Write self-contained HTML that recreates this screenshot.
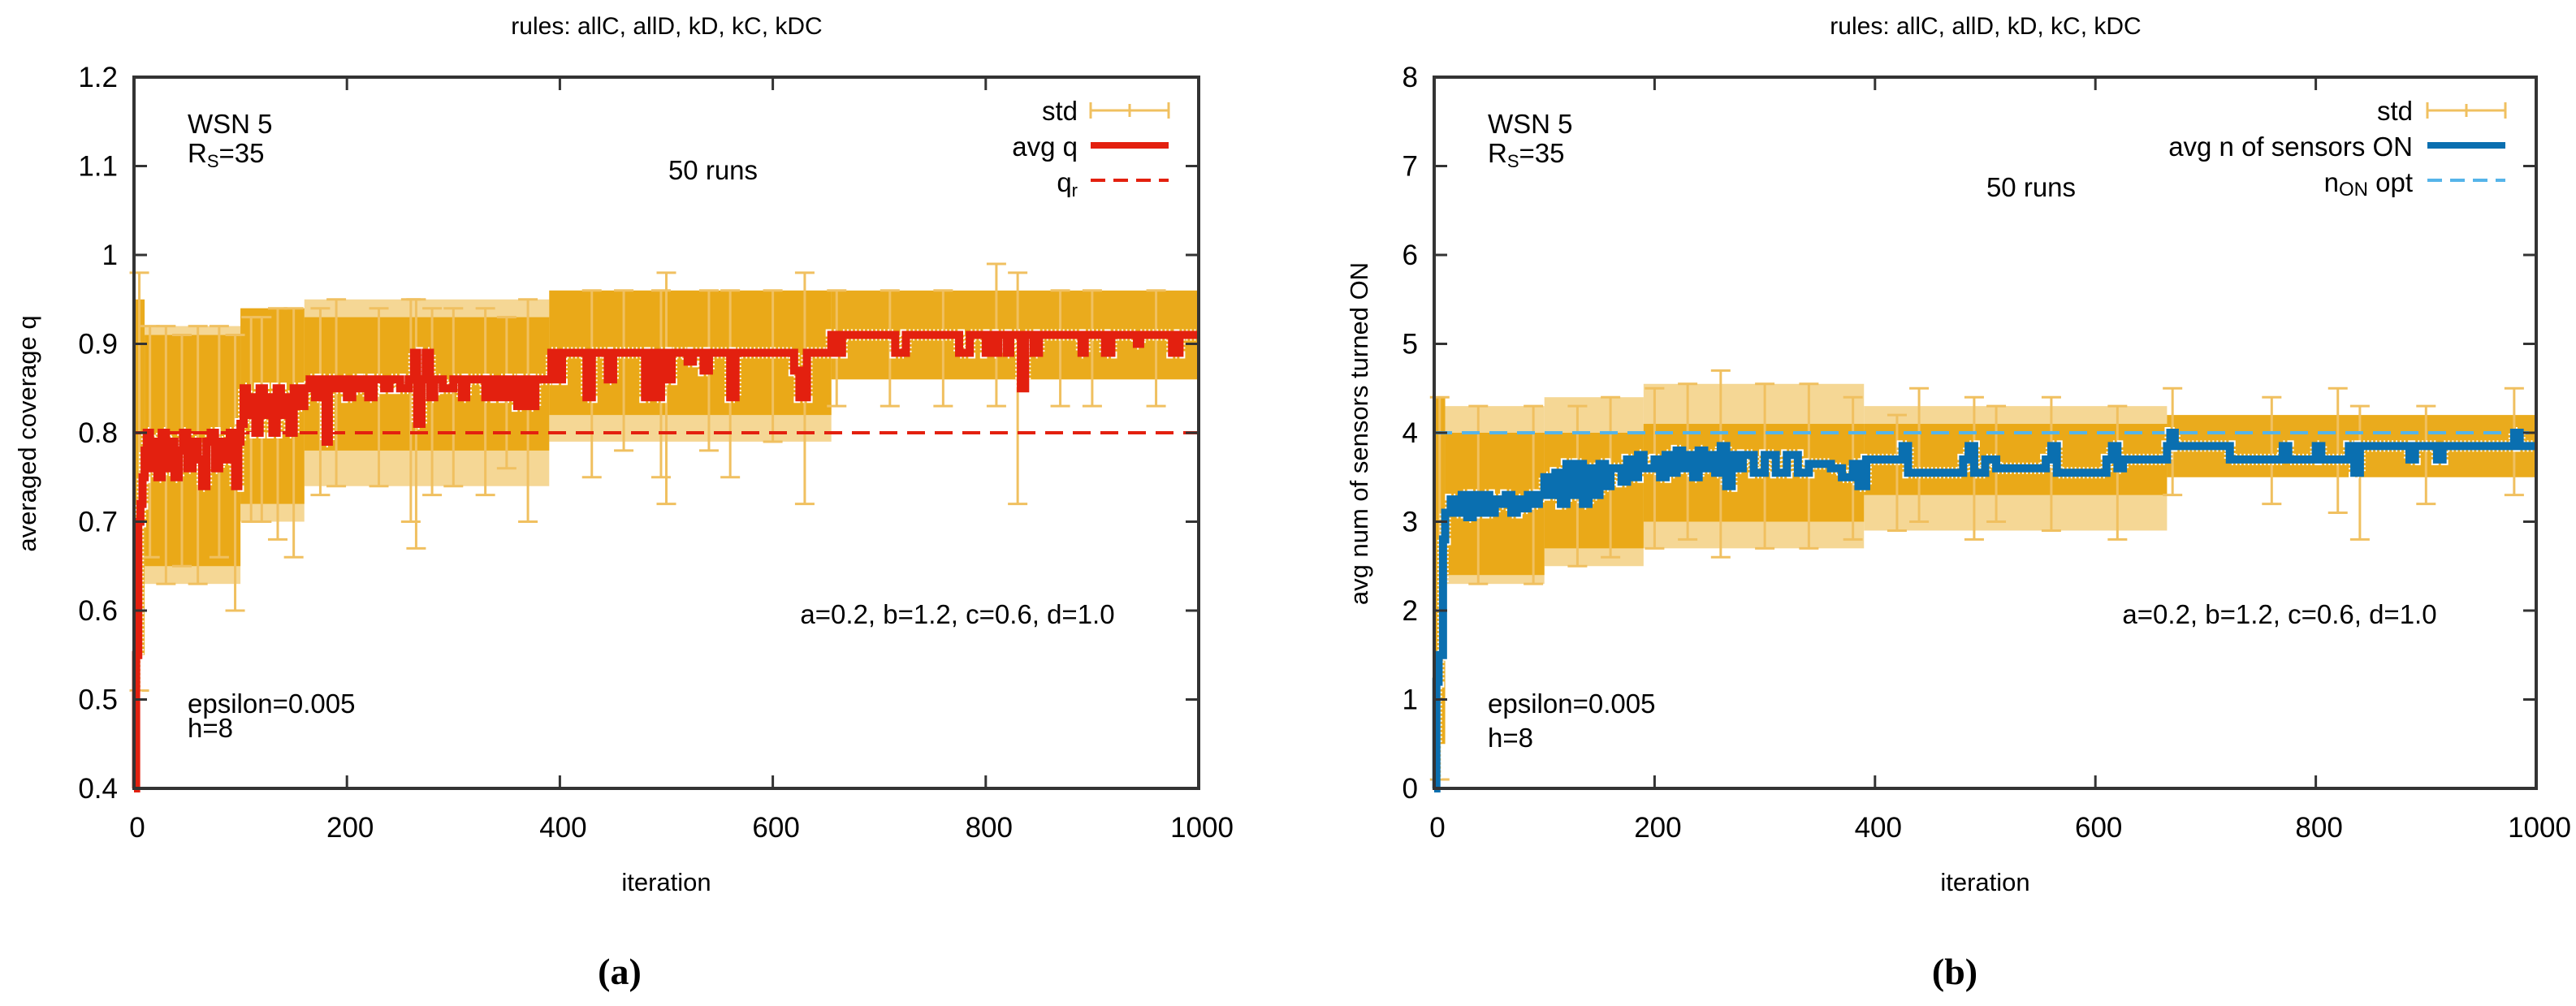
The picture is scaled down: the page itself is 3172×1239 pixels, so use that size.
<!DOCTYPE html>
<html><head><meta charset="utf-8">
<style>
html,body{margin:0;padding:0;background:#fff;}
svg{display:block;font-family:"Liberation Sans",sans-serif;}
</style></head>
<body>
<svg id="fig" width="3172" height="1239" viewBox="0 0 3172 1239" xmlns="http://www.w3.org/2000/svg"></svg>
<script>
// ---------- Panel (a) data ----------
const aAvgX=[0,2,4,6,8,10,12,15,18,22,26,30,34,38,42,46,50,55,60,64,68,72,76,80,85,90,95,98,100,103,106,110,114,118,122,126,130,134,138,142,146,150,155,160,165,170,175,180,183,190,195,200,205,210,215,220,225,235,240,250,258,263,266,270,274,278,282,290,300,308,312,330,333,340,343,350,353,360,365,372,377,392,398,402,425,430,445,450,480,485,490,495,500,505,520,525,535,540,560,565,620,625,632,655,660,665,715,725,775,785,800,803,808,812,820,823,833,837,845,850,890,893,912,918,942,945,975,982,1000];
const aAvgY=[0.40,0.55,0.70,0.72,0.75,0.78,0.80,0.76,0.79,0.75,0.80,0.76,0.79,0.75,0.78,0.80,0.76,0.79,0.77,0.74,0.79,0.80,0.76,0.79,0.77,0.80,0.74,0.79,0.81,0.85,0.82,0.84,0.80,0.85,0.82,0.84,0.80,0.85,0.82,0.84,0.80,0.85,0.83,0.85,0.86,0.84,0.86,0.79,0.86,0.85,0.86,0.84,0.86,0.85,0.86,0.84,0.86,0.85,0.86,0.85,0.86,0.89,0.81,0.86,0.89,0.84,0.86,0.85,0.86,0.84,0.86,0.84,0.86,0.84,0.86,0.84,0.86,0.83,0.86,0.83,0.86,0.89,0.86,0.89,0.84,0.89,0.86,0.89,0.84,0.89,0.84,0.89,0.86,0.89,0.88,0.89,0.87,0.89,0.84,0.89,0.87,0.84,0.89,0.91,0.89,0.91,0.89,0.91,0.89,0.91,0.89,0.91,0.89,0.91,0.89,0.91,0.85,0.91,0.89,0.91,0.89,0.91,0.89,0.91,0.90,0.91,0.89,0.91,0.91];
const aBandX0=[0,10,100,160,390,655];
const aBandX1=[10,100,160,390,655,1000];
const aBandLo=[0.55,0.65,0.72,0.78,0.82,0.86];
const aBandHi=[0.95,0.91,0.94,0.93,0.96,0.96];
const aLightX0=[10,100,160,390];
const aLightX1=[100,160,390,655];
const aLightLo=[0.63,0.70,0.74,0.79];
const aLightHi=[0.92,0.94,0.95,0.96];
const aErrX=[5,15,30,45,60,80,95,110,120,135,150,175,190,230,260,265,280,300,330,350,370,430,460,495,500,540,560,600,630,660,710,760,810,830,870,900,960];
const aErrLo=[0.51,0.66,0.63,0.65,0.63,0.66,0.60,0.70,0.70,0.68,0.66,0.73,0.74,0.74,0.70,0.67,0.73,0.74,0.73,0.76,0.70,0.75,0.78,0.75,0.72,0.78,0.75,0.79,0.72,0.83,0.83,0.83,0.83,0.72,0.83,0.83,0.83];
const aErrHi=[0.98,0.92,0.92,0.91,0.92,0.92,0.91,0.93,0.93,0.94,0.94,0.94,0.95,0.94,0.95,0.95,0.94,0.94,0.94,0.93,0.95,0.96,0.96,0.96,0.98,0.96,0.96,0.96,0.98,0.96,0.96,0.96,0.99,0.98,0.96,0.96,0.96];
const aRef=[0.8];
const aYTicks=[0.4,0.5,0.6,0.7,0.8,0.9,1,1.1,1.2];
const xTicks=[0,200,400,600,800,1000];

// ---------- Panel (b) data ----------
const bAvgX=[0,2,4,8,10,15,20,25,30,35,40,45,50,55,60,65,70,75,80,85,90,95,100,105,110,115,120,125,130,135,140,145,150,155,160,170,175,180,185,190,200,205,210,215,220,225,230,235,240,245,250,255,260,265,270,275,280,290,300,310,320,330,340,360,370,380,385,392,420,425,430,480,485,490,500,510,555,560,565,610,615,620,625,665,668,672,715,722,770,775,800,805,830,835,840,850,885,890,910,915,975,980,985,1000];
const bAvgY=[0,1.2,1.5,2.8,3.1,3.25,3.1,3.3,3.05,3.3,3.1,3.3,3.1,3.25,3.2,3.3,3.1,3.25,3.15,3.3,3.2,3.3,3.5,3.3,3.55,3.2,3.65,3.3,3.65,3.2,3.6,3.3,3.65,3.4,3.6,3.45,3.7,3.5,3.75,3.6,3.7,3.5,3.75,3.55,3.8,3.6,3.75,3.5,3.8,3.6,3.75,3.55,3.85,3.4,3.75,3.6,3.75,3.55,3.75,3.55,3.75,3.55,3.65,3.6,3.5,3.65,3.4,3.7,3.7,3.85,3.55,3.7,3.85,3.55,3.7,3.6,3.7,3.85,3.55,3.7,3.85,3.6,3.7,3.85,4.0,3.85,3.85,3.7,3.85,3.7,3.85,3.7,3.85,3.55,3.85,3.85,3.7,3.85,3.7,3.85,3.85,4.0,3.85,3.85];
const bBandX0=[0,10,100,190,390,665];
const bBandX1=[10,100,190,390,665,1000];
const bBandLo=[0.5,2.4,2.7,3.0,3.3,3.5];
const bBandHi=[4.4,4.0,4.0,4.1,4.1,4.2];
const bLightX0=[10,100,190,390];
const bLightX1=[100,190,390,665];
const bLightLo=[2.3,2.5,2.7,2.9];
const bLightHi=[4.3,4.4,4.55,4.3];
const bErrX=[5,40,90,130,160,200,230,260,300,340,380,420,440,490,510,560,620,670,760,820,840,900,980];
const bErrLo=[0.1,2.3,2.3,2.5,2.6,2.7,2.8,2.6,2.7,2.7,2.8,2.9,3.0,2.8,3.0,2.9,2.8,3.3,3.2,3.1,2.8,3.2,3.3];
const bErrHi=[4.4,4.3,4.3,4.3,4.4,4.5,4.55,4.7,4.55,4.55,4.4,4.2,4.5,4.4,4.3,4.4,4.3,4.5,4.4,4.5,4.3,4.3,4.5];
const bRef=[4.0];
const bYTicks=[0,1,2,3,4,5,6,7,8];

const NS="http://www.w3.org/2000/svg";
const svg=document.getElementById('fig');
function mk(tag,attrs,parent,text){const e=document.createElementNS(NS,tag);for(const k in attrs)e.setAttribute(k,attrs[k]);if(text!==undefined)e.textContent=text;(parent||svg).appendChild(e);return e;}

const BAND='#e9a711', ERR='#f0c060';

function panel(P){
  const g=mk('g',{});
  
  
  const L=P.left,R=P.right,T=95,B=971;
  const sx=v=>L+v/1000*(R-L);
  const sy=v=>B-(v-P.ymin)/(P.ymax-P.ymin)*(B-T);
  for(let i=0;i<P.lx0.length;i++){
    const r=mk('rect',{x:sx(P.lx0[i]),y:sy(P.lhi[i]),width:sx(P.lx1[i])-sx(P.lx0[i]),height:sy(P.llo[i])-sy(P.lhi[i]),fill:'#f2cd7a',opacity:0.8},g);
    
    
  }
  for(let i=0;i<P.bx0.length;i++){
    const r=mk('rect',{x:sx(P.bx0[i]),y:sy(P.bhi[i]),width:sx(P.bx1[i])-sx(P.bx0[i]),height:sy(P.blo[i])-sy(P.bhi[i]),fill:BAND,opacity:0.95},g);
    
    
  }
  for(let i=0;i<P.ex.length;i++){
    const x=sx(P.ex[i]),y1=sy(P.elo[i]),y2=sy(P.ehi[i]);
    const eb=mk('path',{d:`M${x},${y1}V${y2}M${x-12},${y1}H${x+12}M${x-12},${y2}H${x+12}`,stroke:ERR,'stroke-width':3,fill:'none'},g);
    
    
  }
  const ry=sy(P.ref[0]);
  const rl=mk('line',{x1:L,x2:R,y1:ry,y2:ry,stroke:P.refColor,'stroke-width':4,'stroke-dasharray':'22,12'},g);
  
  
  let d=`M${sx(P.ax[0])},${sy(P.ay[0])}`;
  for(let i=1;i<P.ax.length;i++){d+=`H${sx(P.ax[i])}V${sy(P.ay[i])}`;}
  const w=mk('path',{d:d,stroke:'#fff','stroke-width':14,fill:'none','stroke-dasharray':'2,3'},g);
  
  
  const al=mk('path',{d:d,stroke:P.lineColor,'stroke-width':10,fill:'none'},g);
  
  
  const fr=mk('rect',{x:L,y:T,width:R-L,height:B-T,fill:'none',stroke:'#333','stroke-width':4},g);
  
  
  xTicks.forEach(t=>{
    const x=sx(t);
    const tk=mk('path',{d:`M${x},${B}v-16M${x},${T}v16`,stroke:'#333','stroke-width':3},g);
    
    
    const tl=mk('text',{x:x+4,y:1031,'font-size':35,'text-anchor':'middle',fill:'#000'},g,String(t));
    
    
  });
  P.yt.forEach(t=>{
    const y=sy(t);
    const tk=mk('path',{d:`M${L},${y}h16M${R},${y}h-16`,stroke:'#333','stroke-width':3},g);
    
    
    const tl=mk('text',{x:L-20,y:y+12,'font-size':35,'text-anchor':'end',fill:'#000'},g,String(t));
    
    
  });
  const mid=(L+R)/2;
  let t;
  t=mk('text',{x:P.titleX,y:42,'font-size':30,'text-anchor':'middle'},g,'rules: allC, allD, kD, kC, kDC');
  
  t=mk('text',{x:mid,y:1097,'font-size':31,'text-anchor':'middle'},g,'iteration');
  
  t=mk('text',{x:0,y:0,'font-size':31,'text-anchor':'middle',transform:`translate(${P.ylabX},534) rotate(-90)`},g,P.ylabel);
  
  t=mk('text',{x:L+66,y:164,'font-size':33},g,'WSN 5');
  
  t=mk('text',{x:L+66,y:200,'font-size':33},g);
  t.innerHTML='R<tspan font-size="22" dy="6">S</tspan><tspan dy="-6">=35</tspan>';
  
  t=mk('text',{x:P.runsX,y:P.runsY,'font-size':33,'text-anchor':'middle'},g,'50 runs');
  
  t=mk('text',{x:P.paramX,y:768,'font-size':33,'text-anchor':'middle'},g,'a=0.2, b=1.2, c=0.6, d=1.0');
  
  t=mk('text',{x:L+66,y:878,'font-size':33},g,'epsilon=0.005');
  
  t=mk('text',{x:L+66,y:P.hY,'font-size':33},g,'h=8');
  
  t=mk('text',{x:P.capX,y:1212,'font-size':46,'text-anchor':'middle','font-family':'Liberation Serif, serif','font-weight':'bold'},g,P.cap);
  
  const lx=P.legX, l0=P.legL0, l1=P.legL1;
  t=mk('text',{x:lx,y:148,'font-size':33,'text-anchor':'end'},g,'std');
  
  const ls=mk('path',{d:`M${l0},136H${l1}M${l0},126v20M${l1},126v20M${(l0+l1)/2},128v16`,stroke:ERR,'stroke-width':3},g);
  
  t=mk('text',{x:lx,y:192,'font-size':33,'text-anchor':'end'},g,P.avgLabel);
  
  const la=mk('line',{x1:l0,x2:l1,y1:179,y2:179,stroke:P.lineColor,'stroke-width':8},g);
  
  t=mk('text',{x:lx,y:236,'font-size':33,'text-anchor':'end'},g);
  t.innerHTML=P.refLabel;
  
  const lr=mk('line',{x1:l0,x2:l1,y1:222,y2:222,stroke:P.refColor,'stroke-width':4,'stroke-dasharray':'18,10'},g);
  
}

panel({id:'coverage',left:165,right:1476,ymin:0.4,ymax:1.2,yt:aYTicks,ax:aAvgX,ay:aAvgY,bx0:aBandX0,bx1:aBandX1,blo:aBandLo,bhi:aBandHi,lx0:aLightX0,lx1:aLightX1,llo:aLightLo,lhi:aLightHi,ex:aErrX,elo:aErrLo,ehi:aErrHi,ref:aRef,
  lineColor:'#e3200f',refColor:'#e3200f',titleX:821,ylabX:44,ylabel:'averaged coverage q',runsX:878,runsY:221,paramX:1179,hY:908,capX:763,cap:'(a)',
  legX:1327,legL0:1343,legL1:1439,avgLabel:'avg q',refLabel:'q<tspan font-size="22" dy="6">r</tspan>'});
panel({id:'sensors',left:1766,right:3123,ymin:0,ymax:8,yt:bYTicks,ax:bAvgX,ay:bAvgY,bx0:bBandX0,bx1:bBandX1,blo:bBandLo,bhi:bBandHi,lx0:bLightX0,lx1:bLightX1,llo:bLightLo,lhi:bLightHi,ex:bErrX,elo:bErrLo,ehi:bErrHi,ref:bRef,
  lineColor:'#0a6fb0',refColor:'#56b4e9',titleX:2445,ylabX:1684,ylabel:'avg num of sensors turned ON',runsX:2501,runsY:242,paramX:2807,hY:920,capX:2407,cap:'(b)',
  legX:2971,legL0:2989,legL1:3085,avgLabel:'avg n of sensors ON',refLabel:'n<tspan font-size="24" dy="5">ON</tspan><tspan dy="-5"> opt</tspan>'});
</script>
</body></html>
